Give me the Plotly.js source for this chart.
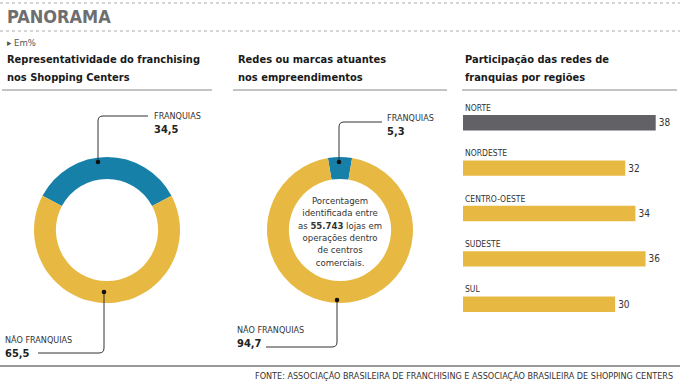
<!DOCTYPE html>
<html><head><meta charset="utf-8">
<script src="https://cdn.plot.ly/plotly-3.0.1.min.js"></script>
<style>html,body{margin:0;padding:0;background:#fff}#chart{width:680px;height:381px}</style>
</head><body><div id="chart"></div>
<script>
// ---- data ----
const pieLabels = ["FRANQUIAS", "NÃO FRANQUIAS"];
const pie1Values = [34.5, 65.5];
const pie2Values = [5.3, 94.7];
const regions = ["NORTE", "NORDESTE", "CENTRO-OESTE", "SUDESTE", "SUL"];
const regionValues = [38, 32, 34, 36, 30];
const highlightRegion = "NORTE";

const W = 680, H = 381;
const FONT = "Liberation Sans Narrow, DejaVu Sans Condensed, Arial Narrow, sans-serif";
const BLUE = "#1780a9", YELLOW = "#e8b942", GRAY = "#616166";
const px = x => x / W, py = y => 1 - y / H;
const fmt = v => String(v).replace('.', ',');

function pie(values, cx, cy, r) {
  const share = values[0] / values.reduce((a, b) => a + b, 0);
  return {
    type: 'pie', labels: pieLabels, values: values, sort: false, direction: 'clockwise',
    rotation: -share * 180, hole: 0.7, textinfo: 'none', hoverinfo: 'label+value',
    marker: {colors: [BLUE, YELLOW], line: {width: 0}}, showlegend: false,
    domain: {x: [px(cx - r), px(cx + r)], y: [py(cy + r), py(cy - r)]}
  };
}

const traces = [
  pie(pie1Values, 107, 230, 73),
  pie(pie2Values, 340, 230, 73),
  {
    type: 'bar', orientation: 'h', y: regions, x: regionValues,
    marker: {color: regions.map(r => r === highlightRegion ? GRAY : YELLOW)},
    text: regionValues.map(String), textposition: 'outside', cliponaxis: false,
    textfont: {family: FONT, size: 10, color: '#333'}, xaxis: 'x', yaxis: 'y',
    showlegend: false, hoverinfo: 'y+x'
  }
];

const ann = [];
const T = (x, y, text, o) => ann.push(Object.assign({xref: 'paper', yref: 'paper', x: px(x), y: py(y),
  text: text, showarrow: false, xanchor: 'left', yanchor: 'middle',
  font: {family: FONT, size: 9, color: '#333'}}, o || {}));

T(5, 16, '<b>PANORAMA</b>', {font: {family: "DejaVu Sans Condensed, " + FONT, size: 18, color: '#6e6e70'}});
T(5, 43, '▸ Em%', {font: {family: FONT, size: 9.5, color: '#555'}});
const tf = {family: FONT, size: 11, color: '#1a1a1a'};
T(5, 60, '<b>Representatividade do franchising</b>', {font: tf});
T(5, 77, '<b>nos Shopping Centers</b>', {font: tf});
T(236, 60, '<b>Redes ou marcas atuantes</b>', {font: tf});
T(236, 77, '<b>nos empreendimentos</b>', {font: tf});
T(463, 60, '<b>Participação das redes de</b>', {font: tf});
T(463, 77, '<b>franquias por regiões</b>', {font: tf});

const lf = {family: FONT, size: 9, color: '#333'};
const vf = {family: FONT, size: 11, color: '#222'};
// donut 1 labels
T(152, 116, pieLabels[0], {font: lf});
T(152, 129, '<b>' + fmt(pie1Values[0]) + '</b>', {font: vf});
T(3, 340, pieLabels[1], {font: lf});
T(3, 353, '<b>' + fmt(pie1Values[1]) + '</b>', {font: vf});
// donut 2 labels
T(385, 118, pieLabels[0], {font: lf});
T(385, 131, '<b>' + fmt(pie2Values[0]) + '</b>', {font: vf});
T(235, 330, pieLabels[1], {font: lf});
T(235, 343, '<b>' + fmt(pie2Values[1]) + '</b>', {font: vf});
// center text
T(340, 231, 'Porcentagem<br>identificada entre<br>as <b>55.743</b> lojas em<br>operações dentro<br>de centros<br>comerciais.',
  {xanchor: 'center', align: 'center', font: {family: FONT, size: 9.5, color: '#333'}});
// footer
T(675, 376, 'FONTE: ASSOCIAÇÃO BRASILEIRA DE FRANCHISING E ASSOCIAÇÃO BRASILEIRA DE SHOPPING CENTERS',
  {xanchor: 'right', font: {family: FONT, size: 9, color: '#333'}});
// bar category labels
regions.forEach(r => ann.push({xref: 'x', yref: 'y', x: 0, y: r, yshift: 15, text: r, showarrow: false,
  xanchor: 'left', yanchor: 'middle', font: {family: FONT, size: 8.5, color: '#333'}}));

const L = (x0, y0, x1, y1, c, w, d) => ({type: 'line', xref: 'paper', yref: 'paper',
  x0: px(x0), y0: py(y0), x1: px(x1), y1: py(y1), line: {color: c, width: w, dash: d || 'solid'}});
const P = pts => 'M' + px(pts[0][0]) + ',' + py(pts[0][1]) + ' L' + px(pts[1][0]) + ',' + py(pts[1][1]) +
  ' Q' + px(pts[2][0]) + ',' + py(pts[2][1]) + ' ' + px(pts[3][0]) + ',' + py(pts[3][1]) +
  ' L' + px(pts[4][0]) + ',' + py(pts[4][1]);
const path = pts => ({type: 'path', xref: 'paper', yref: 'paper', path: P(pts), line: {color: '#333', width: 1}});
const dot = (x, y) => ({type: 'circle', xref: 'paper', yref: 'paper', x0: px(x - 2.3), x1: px(x + 2.3),
  y0: py(y + 2.3), y1: py(y - 2.3), fillcolor: '#111', line: {width: 0}});

const shapes = [
  L(0, 3, 680, 3, '#aaa', 1, 'dot'),
  L(0, 31, 680, 31, '#aaa', 1, 'dot'),
  L(2, 90, 212, 90, '#888', 1),
  L(233, 90, 447, 90, '#888', 1),
  L(462, 90, 677, 90, '#888', 1),
  L(0, 366, 680, 366, '#333', 1),
  path([[98, 162], [98, 121], [98, 116], [103, 116], [148, 116]]),
  path([[104, 292], [104, 348], [104, 353], [99, 353], [38, 353]]),
  path([[339, 162], [339, 127], [339, 122], [344, 122], [382, 122]]),
  path([[337, 300], [337, 342], [337, 347], [332, 347], [266, 347]]),
  dot(98, 162), dot(104, 292), dot(339, 162), dot(337, 300)
];

const layout = {
  width: W, height: H, margin: {l: 0, r: 0, t: 0, b: 0}, paper_bgcolor: '#fff', plot_bgcolor: '#fff',
  showlegend: false, bargap: 0.66,
  xaxis: {domain: [px(463), px(677)], range: [0, 42.2], visible: false, fixedrange: true},
  yaxis: {domain: [py(327), py(100)], range: [4.5, -0.5], visible: false, fixedrange: true},
  annotations: ann, shapes: shapes, font: {family: FONT}
};
Plotly.newPlot('chart', traces, layout, {staticPlot: true, displayModeBar: false});
</script></body></html>
